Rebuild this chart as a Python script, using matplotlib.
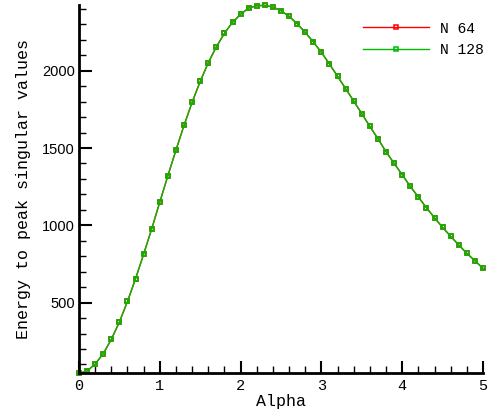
import matplotlib
matplotlib.use('Agg')
import matplotlib.pyplot as plt
from matplotlib.ticker import MultipleLocator

# data
alpha = [0.0, 0.1, 0.2, 0.3, 0.4, 0.5, 0.6, 0.7, 0.8, 0.9,
         1.0, 1.1, 1.2, 1.3, 1.4, 1.5, 1.6, 1.7, 1.8, 1.9,
         2.0, 2.1, 2.2, 2.3, 2.4, 2.5, 2.6, 2.7, 2.8, 2.9,
         3.0, 3.1, 3.2, 3.3, 3.4, 3.5, 3.6, 3.7, 3.8, 3.9,
         4.0, 4.1, 4.2, 4.3, 4.4, 4.5, 4.6, 4.7, 4.8, 4.9, 5.0]
energy_n128 = [43, 58, 103, 170, 263, 375, 508, 655, 814, 978,
               1151, 1321, 1487, 1647, 1796, 1931, 2052, 2155, 2242, 2313,
               2365, 2406, 2420, 2423, 2412, 2388, 2352, 2304, 2248, 2186,
               2119, 2043, 1964, 1884, 1804, 1722, 1640, 1560, 1476, 1401,
               1327, 1252, 1183, 1114, 1049, 987, 929, 873, 819, 771, 722]
energy_n64 = list(energy_n128)  # lies under the N 128 curve

mono = 'Liberation Mono'
sans = 'Liberation Sans'

fig = plt.figure(figsize=(4.89, 4.13), dpi=100)
ax = fig.add_axes([0.1616, 0.0961, 0.8261, 0.8925])

ax.plot(alpha, energy_n64, color='#ff0000', lw=1, marker='s', ms=3.3,
        mfc='none', mec='#ff0000', mew=1.1, label='N 64', clip_on=False)
ax.plot(alpha, energy_n128, color='#00bb00', lw=1, marker='s', ms=3.3,
        mfc='none', mec='#00bb00', mew=1.1, label='N 128', clip_on=False)

ax.set_xlim(0, 5)
ax.set_ylim(min(energy_n128), max(energy_n128) + 4)

for s in ['top', 'right']:
    ax.spines[s].set_visible(False)
for s in ['left', 'bottom']:
    ax.spines[s].set_linewidth(2)

ax.xaxis.set_major_locator(MultipleLocator(1))
ax.xaxis.set_minor_locator(MultipleLocator(0.2))
ax.yaxis.set_major_locator(MultipleLocator(500))
ax.yaxis.set_minor_locator(MultipleLocator(100))
ax.tick_params(which='major', direction='in', length=9, width=1.5)
ax.tick_params(which='minor', direction='in', length=5, width=1)
ax.tick_params(axis='x', pad=4)
ax.tick_params(axis='y', pad=3)
for t in ax.get_xticklabels():
    t.set_fontfamily(mono)
    t.set_fontsize(11)
for t in ax.get_yticklabels():
    t.set_fontfamily(sans)
    t.set_fontsize(10.5)

ax.set_xlabel('Alpha', fontfamily=mono, fontsize=12, labelpad=1)
ax.set_ylabel('Energy to peak singular values', fontfamily=mono, fontsize=12,
              labelpad=8)

ax.legend(loc='upper right', bbox_to_anchor=(1.035, 0.99), frameon=False,
          handlelength=4.5, handletextpad=0.8, labelspacing=0.5,
          prop={'family': mono, 'size': 10.5})

fig.savefig('out.png', dpi=100)
